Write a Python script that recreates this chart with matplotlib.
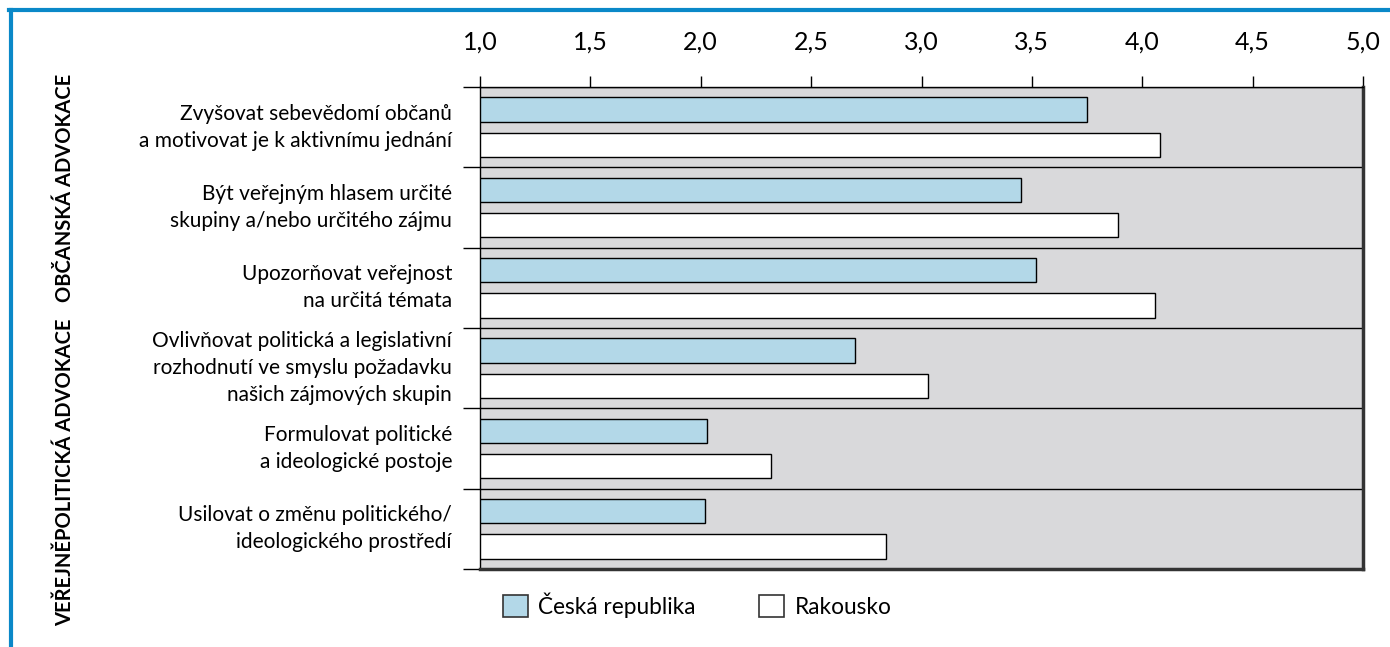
import matplotlib
matplotlib.use("Agg")
import matplotlib.pyplot as plt
from matplotlib.lines import Line2D
from matplotlib.patches import Patch
import matplotlib.transforms as mtransforms
import numpy as np

plt.rcParams['font.family'] = ['Lato', 'DejaVu Sans']

# data
labels = [
    "Zvyšovat sebevědomí občanů\na motivovat je k aktivnímu jednání",
    "Být veřejným hlasem určité\nskupiny a/nebo určitého zájmu",
    "Upozorňovat veřejnost\nna určitá témata",
    "Ovlivňovat politická a legislativní\nrozhodnutí ve smyslu požadavku\nnašich zájmových skupin",
    "Formulovat politické\na ideologické postoje",
    "Usilovat o změnu politického/\nideologického prostředí",
]
cz = [3.75, 3.45, 3.52, 2.70, 2.03, 2.02]
at = [4.08, 3.89, 4.06, 3.03, 2.32, 2.84]
series_names = ["Česká republika", "Rakousko"]
group_names = ["OBČANSKÁ ADVOKACE", "VEŘEJNĚPOLITICKÁ ADVOKACE"]
xticks = [1.0, 1.5, 2.0, 2.5, 3.0, 3.5, 4.0, 4.5, 5.0]

W, H = 1390, 647
fig = plt.figure(figsize=(W / 100, H / 100), dpi=100)
ax = fig.add_axes([480 / W, 1 - 569 / H, (1363 - 480) / W, (569 - 87) / H])

col_cz = "#b3d8e8"
col_bg = "#d9d9db"
ax.set_facecolor(col_bg)

y = np.arange(len(labels)) + 0.5
h = 0.3
off = 0.22
ax.barh(y - off, [v - 1 for v in cz], left=1, height=h, color=col_cz,
        edgecolor="black", linewidth=1, zorder=3)
ax.barh(y + off, [v - 1 for v in at], left=1, height=h, color="white",
        edgecolor="black", linewidth=1, zorder=3)

ax.set_xlim(1, 5)
ax.set_ylim(len(labels), 0)

ax.xaxis.tick_top()
ax.set_xticks(xticks)
ax.set_xticklabels([f"{t:.1f}".replace(".", ",") for t in xticks], fontsize=18)
ax.tick_params(axis="x", length=8, width=1, pad=16, color="black")

ax.set_yticks(np.arange(len(labels) + 1))
ax.set_yticklabels([])
ax.tick_params(axis="y", length=12, width=1, color="black")
ax.yaxis.grid(True, color="black", linewidth=1, zorder=1)
ax.set_axisbelow(True)

for s in ["top", "left"]:
    ax.spines[s].set_linewidth(1)
for s in ["right", "bottom"]:
    ax.spines[s].set_linewidth(2.5)
    ax.spines[s].set_color("#333333")

trans = mtransforms.blended_transform_factory(ax.transAxes, ax.transData)
for yi, lab in zip(y, labels):
    ax.text(-28 / 883, yi, lab, transform=trans, ha="right", va="center",
            multialignment="right", fontsize=15, linespacing=1.45)

# vertical group labels
fig.text(65 / W, 1 - 188 / H, group_names[0], rotation=90, ha="center",
         va="center", fontsize=14.5, fontweight="bold")
fig.text(65 / W, 1 - 472 / H, group_names[1], rotation=90, ha="center",
         va="center", fontsize=14.5, fontweight="bold")

# legend
handles = [Patch(facecolor=col_cz, edgecolor="#333333", linewidth=1.2),
           Patch(facecolor="white", edgecolor="#333333", linewidth=1.2)]
fig.legend(handles, series_names, loc="center left",
           bbox_to_anchor=(492 / W, 1 - 605 / H), ncol=2, frameon=False,
           fontsize=16.3, handlelength=1.1, handleheight=1.1,
           handletextpad=0.45, columnspacing=2.8, borderpad=0)

# blue frame
blue = "#0a88c8"
fig.add_artist(Line2D([9 / W, 1], [1 - 10 / H, 1 - 10 / H], color=blue,
                      linewidth=3, transform=fig.transFigure))
fig.add_artist(Line2D([10.5 / W, 10.5 / W], [0, 1 - 10 / H], color=blue,
                      linewidth=3, transform=fig.transFigure))

fig.savefig("out.png", dpi=100)
